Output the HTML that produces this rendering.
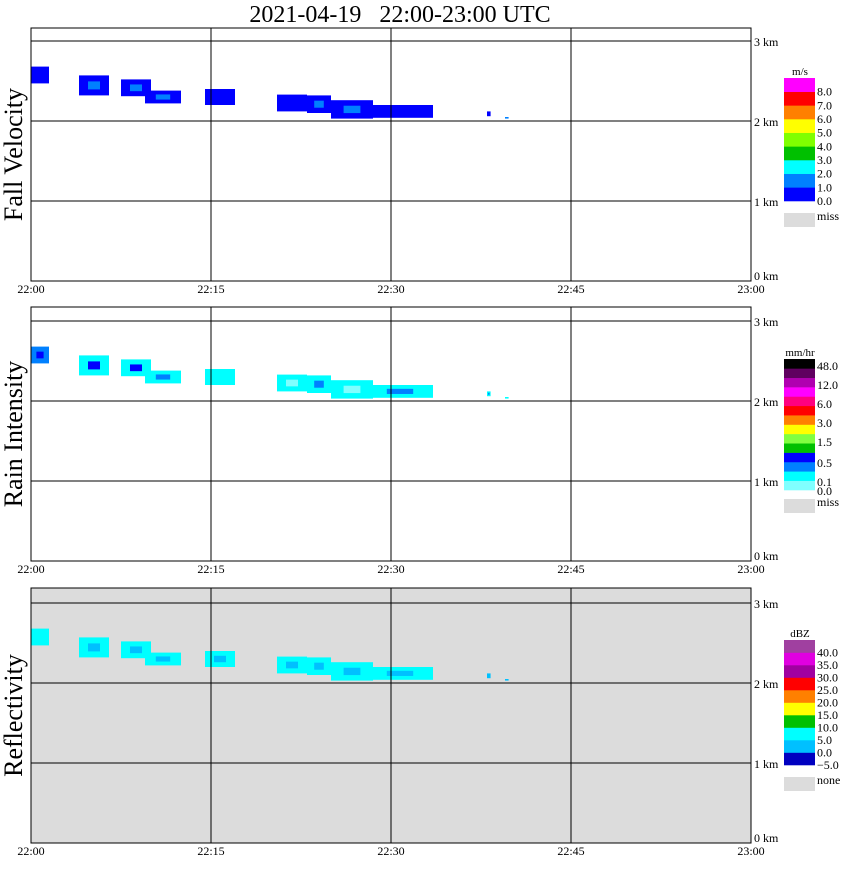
<!DOCTYPE html>
<html><head><meta charset="utf-8">
<style>
body{margin:0;background:#fff;width:850px;height:868px;overflow:hidden;font-family:"Liberation Serif",serif;}
svg text{font-family:"Liberation Serif",serif;}
</style></head>
<body>
<svg id="chart" width="850" height="868" viewBox="0 0 850 868" xmlns="http://www.w3.org/2000/svg">
<text x="400" y="22" text-anchor="middle" font-size="24" style="white-space:pre" xml:space="preserve">2021-04-19   22:00-23:00 UTC</text>
</svg>
<script>
// echo segments (minutes after 22:00, heights in km)
const segStart=[0,4,7.5,9.5,14.5,20.5,23,25,28,38,39.5];
const segEnd=[1.5,6.5,10,12.5,17,23,25,28.5,33.5,38.3,39.8];
const segTop=[2.68,2.57,2.52,2.38,2.4,2.33,2.32,2.26,2.2,2.12,2.05];
const segBot=[2.47,2.32,2.31,2.22,2.2,2.12,2.1,2.03,2.04,2.06,2.03];
const fallMain=[0.5,0.5,0.5,0.5,0.5,0.5,0.5,0.5,0.5,0.5,1.5];
const fallCore=[0.5,1.5,1.5,1.5,0.5,0.5,1.5,1.5,0.5,0.5,1.5];
const rainMain=[0.3,0.2,0.2,0.2,0.2,0.2,0.2,0.2,0.2,0.2,0.2];
const rainCore=[0.6,0.6,0.6,0.3,0.2,0.05,0.3,0.05,0.3,0.3,0.2];
const dbzMain=[7,7,7,7,7,7,7,7,7,3,3];
const dbzCore=[7,3,3,3,3,3,3,3,3,3,3];
const timeTicks=["22:00","22:15","22:30","22:45","23:00"];
const kmTicks=[0,1,2,3];
const velBounds=[0,1,2,3,4,5,6,7,8];
const velColors=["#0000ff","#0080ff","#00ffff","#00c000","#80ff00","#ffff00","#ff8000","#ff0000","#ff00ff"];
const velLabels=["8.0","7.0","6.0","5.0","4.0","3.0","2.0","1.0","0.0"];
const rainBounds=[0,0.1,0.3,0.5,1,1.5,2,3,4,6,8,12,24,48];
const rainColors=["#80ffff","#00ffff","#0080ff","#0000ff","#00c000","#80ff40","#ffff00","#ff8000","#ff0000","#ff0080","#ff00ff","#b000b0","#600060","#000000"];
const rainLabels=["48.0","12.0","6.0","3.0","1.5","0.5","0.1","0.0"];
const dbzBounds=[-5,0,5,10,15,20,25,30,35,40];
const dbzColors=["#0000c0","#00c0ff","#00ffff","#00c000","#ffff00","#ff8000","#ff0000","#a000a0","#e000e0","#a040a0"];
const dbzLabels=["40.0","35.0","30.0","25.0","20.0","15.0","10.0","5.0","0.0","\u22125.0"];

const NS="http://www.w3.org/2000/svg";
const svg=document.getElementById('chart');
function mk(tag,attrs,parent){const e=document.createElementNS(NS,tag);for(const k in attrs)e.setAttribute(k,attrs[k]);(parent||svg).appendChild(e);return e;}
function colorFor(v,b,c){let i=0;for(let k=0;k<b.length;k++){if(v>=b[k])i=k;}return c[i];}
const X0=31,X1=751;
function xs(m){return X0+(X1-X0)*m/60;}

const panels=[
 {name:"fall-velocity",title:"Fall Velocity",top:28,zero:281,bg:"#ffffff",main:fallMain,core:fallCore,b:velBounds,c:velColors,unit:"m/s",lab:velLabels,legTop:78,legBot:201,miss:"miss",missY:213},
 {name:"rain-intensity",title:"Rain Intensity",top:307,zero:561,bg:"#ffffff",main:rainMain,core:rainCore,b:rainBounds,c:rainColors,unit:"mm/hr",lab:rainLabels,legTop:359,legBot:490,miss:"miss",missY:499},
 {name:"reflectivity",title:"Reflectivity",top:588,zero:843,bg:"#dcdcdc",main:dbzMain,core:dbzCore,b:dbzBounds,c:dbzColors,unit:"dBZ",lab:dbzLabels,legTop:640,legBot:765,miss:"none",missY:777}
];
panels.forEach(p=>{
 const g=mk('g',{});
 
 
 const ys=km=>p.zero-80*km;
 const bg=mk('rect',{x:X0,y:p.top,width:X1-X0,height:p.zero-p.top,fill:p.bg},g);
 
 
 for(let i=0;i<segStart.length;i++){
  const x0=xs(segStart[i]),x1=xs(segEnd[i]),y0=ys(segTop[i]),y1=ys(segBot[i]);
  const r=mk('rect',{x:x0,y:y0,width:Math.max(2,x1-x0),height:y1-y0,fill:colorFor(p.main[i],p.b,p.c)},g);
  
  
  const w=(x1-x0),h=(y1-y0);
  const c=mk('rect',{x:x0+w*0.3,y:y0+h*0.3,width:Math.max(1,w*0.4),height:h*0.4,fill:colorFor(p.core[i],p.b,p.c)},g);
  
  
 }
 kmTicks.forEach(k=>{
  if(k>0){const l=mk('line',{x1:X0,x2:X1,y1:ys(k),y2:ys(k),stroke:'#000','stroke-width':1},g);
   }
  const t=mk('text',{x:754,y:ys(k)+(k===0?-1:5),'font-size':12},g);t.textContent=k+' km';
  
 });
 timeTicks.forEach((s,i)=>{
  const x=xs(i*15);
  if(i>0&&i<4){const l=mk('line',{x1:x,x2:x,y1:p.top,y2:p.zero,stroke:'#000'},g);
   }
  const t=mk('text',{x:x,y:p.zero+12,'font-size':12,'text-anchor':'middle'},g);t.textContent=s;
  
 });
 const fr=mk('rect',{x:X0,y:p.top,width:X1-X0,height:p.zero-p.top,fill:'none',stroke:'#000'},g);
 
 const yt=mk('text',{x:0,y:0,'font-size':26,'text-anchor':'middle',transform:`translate(22,${(p.top+p.zero)/2}) rotate(-90)`},g);
 yt.textContent=p.title;
 
 const n=p.c.length,bh=(p.legBot-p.legTop)/n;
 const ut=mk('text',{x:800,y:p.legTop-3,'font-size':11,'text-anchor':'middle'},g);ut.textContent=p.unit;
 
 for(let k=0;k<n;k++){
  const r=mk('rect',{x:784,y:p.legBot-(k+1)*bh,width:31,height:bh+0.3,fill:p.c[k]},g);
  
 }
 p.lab.forEach((s,k)=>{
  let y;
  if(p.name==="rain-intensity"){const ys2=[366,385,404,423,442,463,482,491];y=ys2[k];}
  else y=p.legTop+(k+1)*bh;
  const t=mk('text',{x:817,y:y+4,'font-size':12},g);t.textContent=s;
  
 });
 const mb=mk('rect',{x:784,y:p.missY,width:31,height:14,fill:'#dcdcdc'},g);
 
 const mt=mk('text',{x:817,y:p.missY+7,'font-size':12},g);mt.textContent=p.miss;
 
});
</script>
</body></html>
